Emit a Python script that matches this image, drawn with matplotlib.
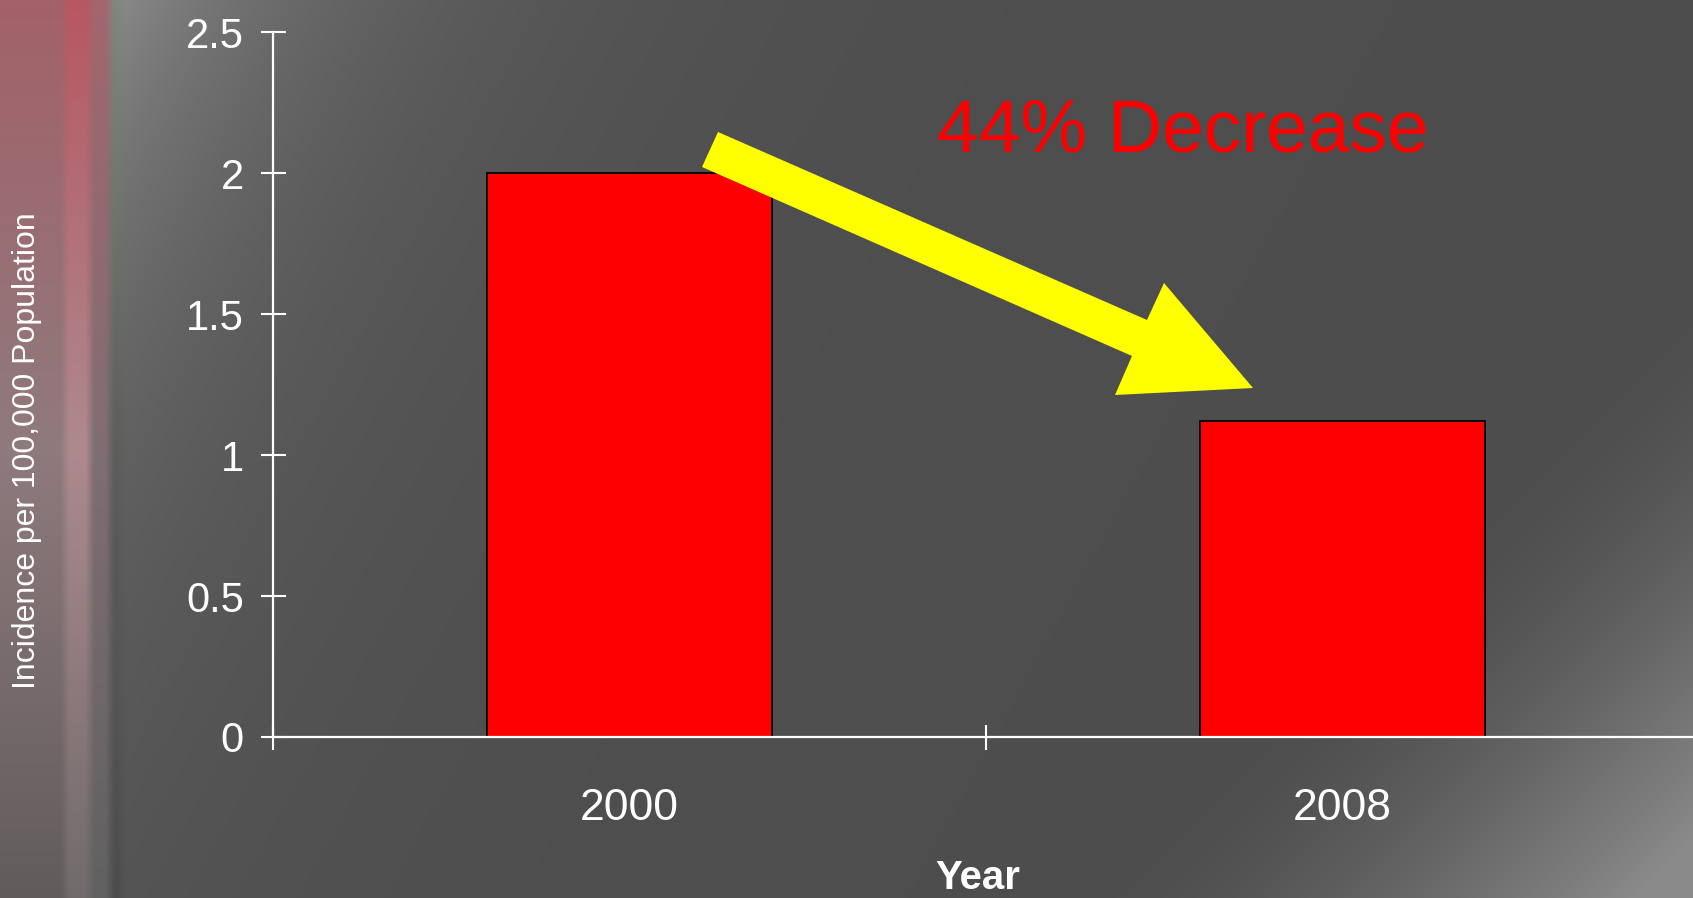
import numpy as np
import matplotlib
matplotlib.use("Agg")
import matplotlib.pyplot as plt
from matplotlib.patches import Polygon

# data
years = ["2000", "2008"]
incidence = [2.0, 1.12]
y_ticks = [0, 0.5, 1, 1.5, 2, 2.5]
y_tick_labels = ["0", "0.5", "1", "1.5", "2", "2.5"]

W, H = 1693, 898
fig = plt.figure(figsize=(W / 100, H / 100), dpi=100)

# background: dark grey slide with red streak on the left
yy, xx = np.mgrid[0:H, 0:W].astype(float)
bg = np.full((H, W, 3), 0.305)
# light glow top-left
glow = 0.24 * np.exp(-np.clip(xx - 110, 0, None) / 230.0) * np.exp(-yy / 420.0)
bg += glow[..., None]
# light glow bottom-right
t = (xx - 1250) / 380.0 + (yy - 450) / 380.0
br = 0.24 * np.clip((t - 0.8) / 1.4, 0, 1) ** 1.5
bg += br[..., None]

# left vertical strip
def band(top, mid, bot):
    f = yy[:, :1] / H
    top, mid, bot = np.array(top), np.array(mid), np.array(bot)
    up = top + (mid - top) * np.clip(f / 0.5, 0, 1)
    return np.where(f < 0.5, up, mid + (bot - mid) * np.clip((f - 0.5) / 0.5, 0, 1))

bg[:, 0:65] = band((0.64, 0.38, 0.41), (0.56, 0.48, 0.49), (0.38, 0.36, 0.36))[:, None, :]
bg[:, 65:90] = band((0.72, 0.34, 0.38), (0.68, 0.54, 0.56), (0.44, 0.42, 0.42))[:, None, :]
bg[:, 90:110] = band((0.64, 0.40, 0.43), (0.50, 0.43, 0.45), (0.38, 0.38, 0.38))[:, None, :]
bg[:, 110:122] = band((0.50, 0.53, 0.50), (0.36, 0.37, 0.36), (0.30, 0.30, 0.30))[:, None, :]
# soften the band edges
k = np.ones(9) / 9
strip = bg[:, :140].copy()
pad = np.concatenate([np.repeat(strip[:, :1], 4, axis=1), strip, np.repeat(strip[:, -1:], 4, axis=1)], axis=1)
for c in range(3):
    for r in range(H):
        strip[r, :, c] = np.convolve(pad[r, :, c], k, mode="valid")
bg[:, :140] = strip
bg = np.clip(bg, 0, 1)

bg_ax = fig.add_axes([0, 0, 1, 1], zorder=-1)
bg_ax.imshow(bg, aspect="auto", interpolation="bilinear")
bg_ax.axis("off")

# chart
ax = fig.add_axes([273 / W, 161 / H, 1426 / W, 704.5 / H])
ax.patch.set_alpha(0)
x = np.arange(len(years))
ax.bar(x, incidence, width=0.4, color="#ff0000", edgecolor="black", linewidth=1.3, zorder=2)

ax.set_xlim(-0.5, len(years) - 0.5)
ax.set_ylim(0, 2.5)
for s in ["top", "right"]:
    ax.spines[s].set_visible(False)
for s in ["left", "bottom"]:
    ax.spines[s].set_color("white")
    ax.spines[s].set_linewidth(1.6)
    ax.spines[s].set_zorder(3)

ax.set_yticks(y_ticks, y_tick_labels)
ax.tick_params(axis="y", direction="inout", length=18, width=1.5, color="white",
               labelcolor="white", labelsize=30, pad=12)
for lab in ax.get_yticklabels():
    lab.set_family("Liberation Sans")

ax.set_xticks(x, years)
ax.tick_params(axis="x", which="major", length=0, labelcolor="white", labelsize=32, pad=37)
for lab in ax.get_xticklabels():
    lab.set_family("Liberation Sans")
ax.set_xticks(np.arange(len(years) + 1) - 0.5, minor=True)
ax.tick_params(axis="x", which="minor", direction="inout", length=18, width=1.5, color="white")

# axis titles
fig.text(978 / W, 9 / H, "Year", ha="center", va="baseline", color="white", fontsize=29,
         fontweight="bold", family="Liberation Sans")
fig.text(27 / W, (H - 451) / H, "Incidence per 100,000 Population", rotation=90,
         ha="center", va="center", color="white", fontsize=23, family="Liberation Sans")

# yellow arrow
arrow_px = [(718, 132), (1147, 320), (1164, 283), (1253, 388),
            (1115, 395), (1132, 356), (702, 167)]
arrow = Polygon([(px / W, (H - py) / H) for px, py in arrow_px], closed=True,
                transform=fig.transFigure, facecolor="#ffff00", edgecolor="none", zorder=5)
fig.add_artist(arrow)

fig.text(937 / W, (H - 152) / H, "44% Decrease", ha="left", va="baseline", color="#ff0000",
         fontsize=54, family="Liberation Sans")

fig.savefig("out.png", dpi=100)
